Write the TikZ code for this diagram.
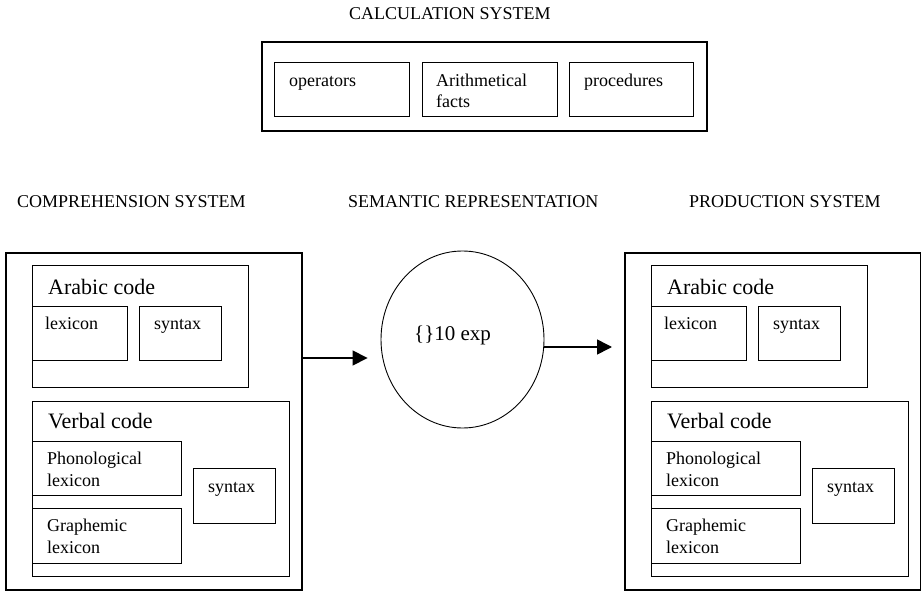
\documentclass[tikz,border=0pt]{standalone}
\usepackage{fontspec}
\setmainfont{Liberation Serif}
\usetikzlibrary{arrows.meta,shapes.geometric}
\begin{document}
\begin{tikzpicture}[
  x=1pt, y=-1pt,
  every node/.style={inner sep=0pt, font=\fontsize{18}{21.5}\selectfont, align=left},
  frame/.style={draw, line width=1.6pt, anchor=north west},
  part/.style={draw, line width=1.3pt, anchor=north west},
  lbl/.style={anchor=base west},
  biglbl/.style={anchor=base west, font=\fontsize{22}{26}\selectfont},
  flow/.style={line width=1.6pt, -{Triangle[length=15pt,width=15pt]}}
]
  \useasboundingbox (0,0) rectangle (921,591);
  % calculation system
  \node[lbl] (calc-title) at (349,20) {CALCULATION SYSTEM};
  \node[frame, minimum width=445pt, minimum height=89pt] (calc) at (261,41) {};
  \node[part, minimum width=135pt, minimum height=54pt] (ops) at (274,62) {};
  \node[part, minimum width=135pt, minimum height=54pt] (facts) at (422,62) {};
  \node[part, minimum width=124pt, minimum height=54pt] (procs) at (569,62) {};
  \node[lbl] (ops-txt) at (289,87) {operators};
  \node[lbl] (facts-txt) at (436,108) {Arithmetical\\facts};
  \node[lbl] (procs-txt) at (584,87) {procedures};
  % titles of the lower row
  \node[lbl] (comp-title) at (17,207) {COMPREHENSION SYSTEM};
  \node[lbl] (sem-title) at (348,207) {SEMANTIC REPRESENTATION};
  \node[lbl] (prod-title) at (689,207) {PRODUCTION SYSTEM};
  % comprehension and production systems
  \foreach \dx/\nm in {0/comp, 619/prod} {
    \node[frame, minimum width=296pt, minimum height=337pt] (\nm-frame) at (5+\dx,252) {};
    \node[part, minimum width=216pt, minimum height=122pt] (\nm-arabic) at (32+\dx,265) {};
    \node[part, minimum width=95pt, minimum height=54pt] (\nm-alex) at (32+\dx,306) {};
    \node[part, minimum width=82pt, minimum height=54pt] (\nm-asyn) at (139+\dx,306) {};
    \node[part, minimum width=257pt, minimum height=175pt] (\nm-verbal) at (32+\dx,401) {};
    \node[part, minimum width=149pt, minimum height=54pt] (\nm-phon) at (32+\dx,441) {};
    \node[part, minimum width=149pt, minimum height=55pt] (\nm-graph) at (32+\dx,508) {};
    \node[part, minimum width=82pt, minimum height=55pt] (\nm-vsyn) at (193+\dx,468) {};
    \node[biglbl] (\nm-arabic-txt) at (48+\dx,294) {Arabic code};
    \node[lbl] (\nm-alex-txt) at (45+\dx,329) {lexicon};
    \node[lbl] (\nm-asyn-txt) at (154+\dx,329) {syntax};
    \node[biglbl] (\nm-verbal-txt) at (48+\dx,428) {Verbal code};
    \node[lbl] (\nm-phon-txt) at (47+\dx,486) {Phonological\\lexicon};
    \node[lbl] (\nm-graph-txt) at (47+\dx,553) {Graphemic\\lexicon};
    \node[lbl] (\nm-vsyn-txt) at (208+\dx,492) {syntax};
  }
  % semantic representation
  \node[draw, ellipse, line width=0.9pt, minimum width=163pt, minimum height=177pt] (sem) at (462.5,339.5) {};
  \node[lbl, font=\fontsize{21}{25}\selectfont] (sem-txt) at (414,340) {\{\}10 exp};
  \draw[flow, shorten >=13pt] (comp-frame.east |- 0,358) -- (sem.west |- 0,358);
  \draw[flow, shorten >=12pt] (sem.east |- 0,347) -- (prod-frame.west |- 0,347);
\end{tikzpicture}
\end{document}
